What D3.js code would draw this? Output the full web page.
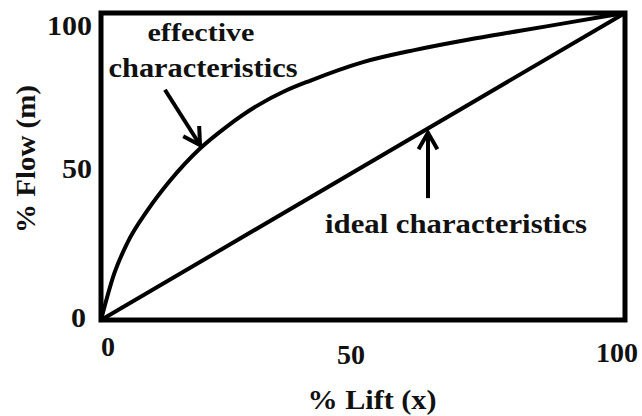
<!DOCTYPE html>
<html>
<head>
<meta charset="utf-8">
<script src="https://cdn.jsdelivr.net/npm/d3@7"></script>
<style>
  html, body { margin: 0; padding: 0; background: #fff; }
</style>
</head>
<body>
<svg id="chart" width="642" height="416"></svg>
<script>
// Valve characteristic: % flow versus % lift
const liftPct       = [0, 2.5, 5, 9, 13, 19, 24, 30, 35, 40, 50, 60, 70, 80, 90, 100];
const effectiveFlow = [0, 15, 25, 36, 45, 56, 63, 70, 74.5, 78, 84, 88, 91.3, 94.2, 97.1, 100];
const idealLift     = [0, 100];
const idealFlow     = [0, 100];
const xTicks = [0, 50, 100];
const yTicks = [0, 50, 100];

const FONT = "'Liberation Serif', 'Times New Roman', Times, serif";

const svg = d3.select("#chart");
const x = d3.scaleLinear().domain([0, 100]).range([101, 625]);
const y = d3.scaleLinear().domain([0, 100]).range([320, 13]);

// curves
const line = d3.line().x(d => x(d[0])).y(d => y(d[1])).curve(d3.curveMonotoneX);

svg.append("path")
  .datum(idealLift.map((v, i) => [v, idealFlow[i]]))
  .attr("d", line)
  .attr("fill", "none").attr("stroke", "#000").attr("stroke-width", 4);

svg.append("path")
  .datum(liftPct.map((v, i) => [v, effectiveFlow[i]]))
  .attr("d", line)
  .attr("fill", "none").attr("stroke", "#000").attr("stroke-width", 4);

// frame
svg.append("rect")
  .attr("x", x(0)).attr("y", y(100))
  .attr("width", x(100) - x(0)).attr("height", y(0) - y(100))
  .attr("fill", "none").attr("stroke", "#000").attr("stroke-width", 5);

function label(sel) {
  return sel.attr("font-family", FONT).attr("font-weight", "bold").attr("fill", "#111");
}

// tick labels
const yOff = {0: -2, 50: 2.5, 100: 13};
svg.selectAll(".ytick").data(yTicks).join("text")
  .attr("class", "ytick")
  .attr("x", d => d === 0 ? 86 : 92)
  .attr("y", d => y(d) + yOff[d])
  .attr("dy", "0.35em")
  .attr("text-anchor", "end")
  .attr("font-size", 27)
  .attr("textLength", d => String(d).length * 15)
  .attr("lengthAdjust", "spacingAndGlyphs")
  .call(label)
  .text(d => d);

const xOff = {0: 7, 50: -12, 100: -8};
const xBase = {0: 356, 50: 364, 100: 362};
svg.selectAll(".xtick").data(xTicks).join("text")
  .attr("class", "xtick")
  .attr("x", d => x(d) + xOff[d])
  .attr("y", d => xBase[d])
  .attr("text-anchor", "middle")
  .attr("font-size", 27)
  .attr("textLength", d => String(d).length * 14)
  .attr("lengthAdjust", "spacingAndGlyphs")
  .call(label)
  .text(d => d);

// axis titles
svg.append("text")
  .attr("x", 372).attr("y", 409)
  .attr("text-anchor", "middle")
  .attr("font-size", 27)
  .attr("textLength", 129).attr("lengthAdjust", "spacingAndGlyphs")
  .call(label)
  .text("% Lift (x)");

svg.append("text")
  .attr("transform", "translate(35,159) rotate(-90)")
  .attr("text-anchor", "middle")
  .attr("font-size", 27)
  .attr("textLength", 148).attr("lengthAdjust", "spacingAndGlyphs")
  .call(label)
  .text("% Flow (m)");

// annotation arrows (open V heads)
function arrow(x0, y0, x1, y1) {
  const px0 = x(x0), py0 = y(y0), px1 = x(x1), py1 = y(y1);
  const ang = Math.atan2(py1 - py0, px1 - px0);
  const len = 19, spread = 0.52;
  const g = svg.append("g").attr("stroke", "#000").attr("stroke-width", 4)
    .attr("fill", "none");
  g.append("line").attr("x1", px0).attr("y1", py0).attr("x2", px1).attr("y2", py1);
  g.append("path").attr("stroke-linejoin", "miter").attr("d",
    `M${px1 - len * Math.cos(ang - spread)},${py1 - len * Math.sin(ang - spread)}` +
    `L${px1},${py1}` +
    `L${px1 - len * Math.cos(ang + spread)},${py1 - len * Math.sin(ang + spread)}`);
}

arrow(12.2, 75, 18.9, 57);
arrow(62.4, 39.7, 62.4, 61);

svg.append("text")
  .attr("x", 201).attr("y", 41).attr("text-anchor", "middle")
  .attr("font-size", 25)
  .attr("textLength", 107).attr("lengthAdjust", "spacingAndGlyphs")
  .call(label)
  .text("effective");
svg.append("text")
  .attr("x", 203).attr("y", 77).attr("text-anchor", "middle")
  .attr("font-size", 27)
  .attr("textLength", 189).attr("lengthAdjust", "spacingAndGlyphs")
  .call(label)
  .text("characteristics");
svg.append("text")
  .attr("x", 456).attr("y", 233).attr("text-anchor", "middle")
  .attr("font-size", 28)
  .attr("textLength", 262).attr("lengthAdjust", "spacingAndGlyphs")
  .call(label)
  .text("ideal characteristics");
</script>
</body>
</html>
